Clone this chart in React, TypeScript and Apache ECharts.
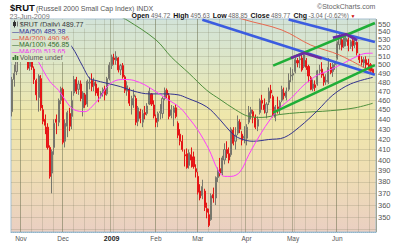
import React, { useEffect, useRef } from "react";
import * as echarts from "echarts";

const FONT = '"Liberation Sans", Arial, sans-serif';

// ---------- categories (trading days) ----------
const holidays = ["2008-11-27", "2008-12-25", "2009-01-01", "2009-01-19", "2009-02-16", "2009-04-10", "2009-05-25"];
const firstDay = "2008-10-28";
const lastDay = "2009-06-23";
function buildDates(): string[] {
  const out: string[] = [];
  const d = new Date(firstDay + "T00:00:00Z");
  const end = new Date(lastDay + "T00:00:00Z").getTime();
  while (d.getTime() <= end) {
    const dow = d.getUTCDay();
    const s = d.toISOString().slice(0, 10);
    if (dow !== 0 && dow !== 6 && !holidays.includes(s)) out.push(s);
    d.setUTCDate(d.getUTCDate() + 1);
  }
  return out;
}
const dates = buildDates();
const categories = [...dates, ""];

const monthKeys = ["2008-11", "2008-12", "2009-01", "2009-02", "2009-03", "2009-04", "2009-05", "2009-06"];
const monthNames = ["Nov", "Dec", "2009", "Feb", "Mar", "Apr", "May", "Jun"];

const yLabelTicks = [350, 360, 370, 380, 390, 400, 410, 420, 430, 440, 450, 460, 470, 480, 490, 500, 510, 520, 530, 540, 550];
const yGridTicks = [340, ...yLabelTicks];
const yMin = 338;
const yMax = 556.5;

// ---------- daily candles [open, close, low, high] ----------
const ohlc: number[][] = [
  [448, 483, 443, 486], [483, 490, 475, 500], [492, 505, 488, 510], [510, 537, 505, 540],
  [537, 531, 525, 542], [535, 548, 530, 555], [545, 519, 517, 548], [512, 496, 494, 515],
  [498, 505, 493, 508], [510, 497, 494, 514], [495, 483, 478, 498], [482, 466, 460, 484],
  [463, 487, 448, 489], [484, 452, 449, 488], [450, 438, 435, 455], [440, 434, 425, 445],
  [432, 412, 410, 436], [412, 385, 383, 414], [388, 408, 370, 410], [412, 436, 405, 440],
  [440, 437, 425, 445], [437, 460, 433, 462], [460, 473, 456, 475], [472, 417, 415, 474],
  [418, 436, 412, 440], [433, 447, 422, 449], [446, 433, 428, 452], [443, 460, 430, 470],
  [468, 483, 465, 487], [483, 470, 467, 486], [472, 478, 466, 482], [478, 462, 459, 482],
  [452, 468, 443, 470], [466, 455, 452, 468], [456, 481, 453, 483], [479, 480, 472, 486],
  [482, 475, 470, 490], [476, 480, 470, 485], [478, 468, 465, 481], [473, 465, 458, 474],
  [465, 468, 462, 470], [468, 472, 464, 474], [472, 466, 460, 476], [467, 484, 465, 486],
  [484, 499.5, 482, 503], [499, 509, 495, 512], [508, 506, 500, 513], [505, 510, 500, 516],
  [508, 494, 491, 509], [494, 499, 488, 501], [499, 486, 484, 502], [486, 471, 468, 488],
  [470, 476, 465, 481], [472, 457, 454, 474], [455, 462, 445, 465], [464, 466, 452, 472],
  [462, 437, 434, 465], [438, 452, 433, 454], [448, 441, 436, 451], [437, 446, 432, 450],
  [447, 445, 440, 454], [446, 454, 444, 457], [456, 470, 455, 474], [467, 456, 454, 468],
  [455, 443.5, 441, 460], [441, 437, 432, 445], [438, 446, 432, 448], [447, 448, 440, 456],
  [446, 462, 441, 464], [462, 471, 460, 474], [471, 466, 462, 473], [465, 443, 440, 468],
  [444, 450, 441, 455], [447, 452, 433, 454], [452, 443, 441, 456], [436, 424, 421, 438],
  [425, 418, 414, 430], [418, 410, 408, 424], [405, 404, 394, 410], [406, 393, 392, 411],
  [395, 407, 392, 410], [405, 400, 393, 412], [403, 394, 392, 408], [392, 389, 384, 396],
  [385, 371, 369, 389], [372, 366, 364, 378], [368, 376, 365, 382], [372, 358, 355, 374],
  [357, 354, 349, 362], [352, 343.3, 342, 357], [348, 368, 347, 370], [369, 366, 362, 375],
  [366, 384, 360, 385], [384, 390, 380, 393], [392, 388, 385, 402], [388, 402, 386, 404],
  [400, 410, 396, 416], [410, 406, 402, 418], [406, 400, 397, 412], [405, 430, 403, 432],
  [429, 416, 414, 432], [418, 424, 410, 432], [426, 438, 424, 444], [437, 430, 426, 440],
  [425, 419, 414, 428], [421, 423, 416, 433], [421, 432, 414, 435], [437, 447, 435, 454],
  [446, 450, 440, 453], [448, 443, 436, 450], [442, 432, 430, 445], [433, 440, 428, 443],
  [447, 460, 445, 462], [460, 457, 450, 466], [455, 450, 446, 462], [447, 456, 441, 458],
  [458, 470, 455, 474], [471, 468, 462, 477], [464, 444, 442, 466], [442, 453, 438, 455],
  [453, 449, 446, 464], [450, 458, 445, 460], [460, 472, 458, 476], [468, 465, 461, 474],
  [463, 470, 460, 474], [472, 482, 470, 490], [487, 488, 480, 497], [488, 490, 482, 495],
  [492, 506, 490, 508], [505, 502, 497, 508], [506, 507, 496, 512], [508, 494, 492, 512],
  [498, 512, 496, 513], [505, 497, 494, 508], [498, 487, 480, 500], [485, 472, 471, 487],
  [473, 478, 470, 483], [477, 474, 470, 482], [478, 493, 476, 494], [493, 494, 488, 500],
  [495, 488, 485, 503], [486, 480, 476, 490], [481, 482, 477, 489], [480, 497, 478, 508],
  [497, 491, 489, 502], [492, 500, 486, 502], [500, 501.6, 494, 504], [508, 525, 506, 528],
  [524, 532, 518, 537], [530, 521, 517, 532], [522, 533, 520, 536], [528, 532, 522, 538],
  [530, 523, 516, 533], [522, 528, 519, 530], [529, 523, 516, 531], [524, 527, 520, 531],
  [527, 514, 511, 528], [511, 506, 502, 513], [506, 503, 499, 510], [502, 506, 497, 509],
  [506, 500, 496, 510], [502, 500, 494, 507], [500, 492.81, 491, 502], [494.72, 489.77, 488.85, 495.63],
];

// ---------- moving averages [dayIndex, value] ----------
const ma20: number[][] = [
  [10, 512], [12, 503], [17, 481], [21, 471], [25, 457], [28, 450], [33, 448], [36, 453], [40, 464],
  [43, 475], [47, 482], [51, 483], [55, 482], [60, 477], [64, 471], [71, 460], [76, 452], [80, 441],
  [84, 429], [89, 410], [93, 391], [96, 385], [99, 385], [103, 389], [107, 405], [112, 424], [117, 441],
  [121, 452], [126, 462], [132, 477], [138, 488], [142, 492], [150, 502], [156, 510], [160, 513.5], [163, 513.65],
];
const ma50: number[][] = [
  [20, 541], [23, 532], [27, 521.5], [32, 497.7], [35, 484.3], [37, 482.4], [43, 478.7], [49, 475],
  [55, 470], [62, 467], [68, 467], [75, 466], [79, 462.6], [88, 453], [94, 439.6], [99, 426.7],
  [102, 421.7], [106, 418.7], [109, 418], [116, 419.7], [123, 421.7], [130, 432.4], [138, 449],
  [145, 465.8], [153, 478], [163, 485.38],
];
const ma100: number[][] = [
  [47, 562], [52, 555], [65, 530], [72, 509], [80, 490], [88, 471], [94, 461], [101, 450], [107, 443],
  [113, 442], [121, 445], [130, 447], [144, 449], [155, 452], [163, 456.85],
];
const ma200: number[][] = [
  [101, 561], [104, 556.5], [122, 542.3], [135, 523.6], [148, 511.5], [163, 490.96],
];

// ---------- drawn trend lines [dayIndex, value] ----------
const blueUpperChannel: number[][] = [[125, 556], [164, 527.3]];
const blueLowerChannel: number[][] = [[86, 555.5], [164, 488.5]];
const greenUpperChannel: number[][] = [[118, 499], [164, 551.3]];
const greenLowerChannel: number[][] = [[118, 447], [164, 499.6]];
const purpleTop1: number[][] = [[126, 508], [132, 514], [140, 507.3]];
const purpleTop2: number[][] = [[145, 532.5], [150.5, 537], [156, 529.5]];

// ---------- header values ----------
const ticker = "$RUT";
const tickerName = "(Russell 2000 Small Cap Index) INDX";
const dateText = "23-Jun-2009";
const quoteLabels = ["Open", "High", "Low", "Close", "Chg"];
const quoteValues = ["494.72", "495.63", "488.85", "489.77", "-3.04 (-0.62%)"];
const legendItems = [
  { label: "MA(50) 485.38", color: "#2b2b93" },
  { label: "MA(200) 490.96", color: "#e0503e" },
  { label: "MA(100) 456.85", color: "#2f6b2a" },
  { label: "MA(20) 513.65", color: "#ee33ee" },
];

const L = (v: number) => Math.log(v);

function weekday(s: string) {
  return new Date(s + "T00:00:00Z").getUTCDay();
}

function buildOption() {
  const monthStart = new Map<number, string>();
  dates.forEach((d, i) => {
    const key = d.slice(0, 7);
    if (i > 0 && key !== dates[i - 1].slice(0, 7)) {
      const k = monthKeys.indexOf(key);
      if (k >= 0) monthStart.set(i, monthNames[k]);
    }
  });
  const weekStart = (i: number) => {
    if (i <= 0 || i >= dates.length) return false;
    return weekday(dates[i]) <= weekday(dates[i - 1]);
  };

  const candleData = ohlc.map(([o, c, l, h]) => [L(o), L(c), L(l), L(h)]);
  const toLine = (arr: number[][]) => arr.map(([i, v]) => [i, L(v)]);

  const maSeries = (data: number[][], color: string) => ({
    type: "line",
    data: toLine(data),
    showSymbol: false,
    symbol: "none",
    smooth: 0.35,
    lineStyle: { width: 1, color },
    z: 3,
    silent: true,
  });
  const trend = (data: number[][], color: string, w = 2.6) => ({
    type: "line",
    data: toLine(data),
    showSymbol: false,
    symbol: "none",
    lineStyle: { width: w, color },
    z: 5,
    silent: true,
  });

  const txt = (t: string, x: number, y: number, size: number, color: string, bold = false, bg?: string) => ({
    type: "text",
    x,
    y,
    z: 100,
    silent: true,
    style: {
      text: t,
      fontSize: size,
      fontFamily: FONT,
      fontWeight: bold ? "bold" : "normal",
      fill: color,
      verticalAlign: "middle",
      align: "left",
      backgroundColor: bg,
      padding: bg ? [1, 2, 1, 1] : 0,
    },
  });

  const legendBg = ["#d3e3d7", "#d5e4d4", "#d7e4d0", "#d9e5cd", "#dbe5ca", "#dce6c8"];
  const rowY = [24, 31, 38, 44.8, 51.3, 57.6];

  // header quote positions: label x, value x
  const labelX = [131.5, 173.3, 212.7, 250.5, 293.4];
  const valueX = [151, 190.4, 228.2, 271.1, 308.5];

  const graphics: any[] = [
    txt(ticker, 10, 7, 9.5, "#111", true),
    txt(tickerName, 36, 8, 7, "#555"),
    txt(dateText, 9.5, 16.2, 7.2, "#777"),
    ...quoteLabels.map((t, k) => txt(t, labelX[k], 15.5, 7, "#111", true)),
    ...quoteValues.map((t, k) => txt(t, valueX[k], 15.5, 6.3, "#666")),
    txt("\u25BC", 350.5, 15.5, 5, "#cc0000"),
    txt("\u00A9StockCharts.com", 317, 6.5, 7, "#666"),
    // legend rows
    txt("    " + ticker + " (Daily) " + quoteValues[3], 11, rowY[0], 7, "#333", false, legendBg[0]),
    ...legendItems.map((it, k) => txt("\u2014" + it.label, 11, rowY[k + 1], 7, it.color, false, legendBg[k + 1])),
    txt("    Volume undef", 11, rowY[5], 7, "#555", false, legendBg[5]),
    // candle icon
    { type: "line", z: 101, silent: true, shape: { x1: 14.5, y1: 20.5, x2: 14.5, y2: 27.5 }, style: { stroke: "#333", lineWidth: 1 } },
    { type: "rect", z: 101, silent: true, shape: { x: 13, y: 22, width: 3, height: 4 }, style: { fill: "#333" } },
    { type: "line", z: 101, silent: true, shape: { x1: 17.5, y1: 21.5, x2: 17.5, y2: 26.5 }, style: { stroke: "#777", lineWidth: 1 } },
    // volume icon
    { type: "rect", z: 101, silent: true, shape: { x: 12.5, y: 57, width: 1.6, height: 3 }, style: { fill: "#3c7a34" } },
    { type: "rect", z: 101, silent: true, shape: { x: 14.6, y: 55, width: 1.6, height: 5 }, style: { fill: "#3c7a34" } },
    { type: "rect", z: 101, silent: true, shape: { x: 16.7, y: 56, width: 1.6, height: 4 }, style: { fill: "#3c7a34" } },
  ];

  return {
    animation: false,
    backgroundColor: "#ffffff",
    textStyle: { fontFamily: FONT },
    grid: {
      left: 11,
      right: 24,
      top: 19,
      bottom: 11,
      show: true,
      borderColor: "#a6bfcf",
      borderWidth: 1,
      backgroundColor: {
        type: "linear",
        x: 0,
        y: 0,
        x2: 0,
        y2: 1,
        colorStops: [
          { offset: 0, color: "#d2e3d9" },
          { offset: 0.2, color: "#dde6c6" },
          { offset: 0.45, color: "#efe7ab" },
          { offset: 0.72, color: "#efdeb3" },
          { offset: 1, color: "#eacfc2" },
        ],
      },
    },
    xAxis: [
      {
        type: "category",
        data: categories,
        boundaryGap: true,
        axisLine: { show: true, lineStyle: { color: "#8fb4cc", type: "dotted", width: 1 } },
        axisTick: { show: false },
        axisLabel: {
          interval: (i: number) => monthStart.has(i),
          formatter: (_v: string, i: number) => {
            const n = monthStart.get(i) || "";
            return n === "2009" ? "{b|2009}" : n;
          },
          fontSize: 6.5,
          color: "#555",
          margin: 3,
          rich: { b: { fontSize: 7, fontWeight: "bold", color: "#222", fontFamily: FONT } },
        },
        splitLine: {
          show: true,
          interval: (i: number) => weekStart(i),
          lineStyle: { color: "rgba(120,120,90,0.22)", width: 1 },
        },
      },
      {
        type: "category",
        data: categories,
        boundaryGap: true,
        show: true,
        axisLine: { show: false },
        axisTick: { show: false },
        axisLabel: { show: false },
        splitLine: {
          show: true,
          interval: (i: number) => monthStart.has(i),
          lineStyle: { color: "rgba(110,115,80,0.42)", width: 1 },
        },
      },
    ],
    yAxis: {
      type: "value",
      position: "right",
      min: L(yMin),
      max: L(yMax),
      scale: true,
      axisLine: { show: false },
      axisTick: { show: false, customValues: yGridTicks.map(L) },
      axisLabel: {
        customValues: yLabelTicks.map(L),
        formatter: (v: number) => String(Math.round(Math.exp(v))),
        fontSize: 7.5,
        color: "#555",
        margin: 2,
      },
      splitLine: { show: true, lineStyle: { color: "rgba(120,120,90,0.22)", width: 1 } },
    },
    series: [
      {
        type: "candlestick",
        data: candleData,
        barWidth: "72%",
        z: 2,
        silent: true,
        itemStyle: {
          color: "#c6c2b2",
          color0: "#ee1a1a",
          borderColor: "#77776d",
          borderColor0: "#e41616",
          borderWidth: 1,
        },
      },
      maSeries(ma100, "#4f8f3e"),
      maSeries(ma200, "#e8684f"),
      maSeries(ma50, "#33338f"),
      maSeries(ma20, "#ff3cff"),
      trend(blueUpperChannel, "#3b5ce0"),
      trend(blueLowerChannel, "#3b5ce0"),
      trend(greenUpperChannel, "#1fae37"),
      trend(greenLowerChannel, "#1fae37"),
      trend(purpleTop1, "#6c2aa0"),
      trend(purpleTop2, "#6c2aa0"),
    ],
    graphic: graphics,
  };
}

export default function App() {
  const ref = useRef<HTMLDivElement>(null);
  useEffect(() => {
    if (!ref.current) return;
    const chart = echarts.init(ref.current, undefined, { renderer: "svg" });
    chart.setOption(buildOption() as any);
    return () => chart.dispose();
  }, []);
  return (
    <div
      ref={ref}
      style={{ position: "absolute", left: 0, top: 0, width: 400, height: 243, background: "#fff" }}
    />
  );
}
